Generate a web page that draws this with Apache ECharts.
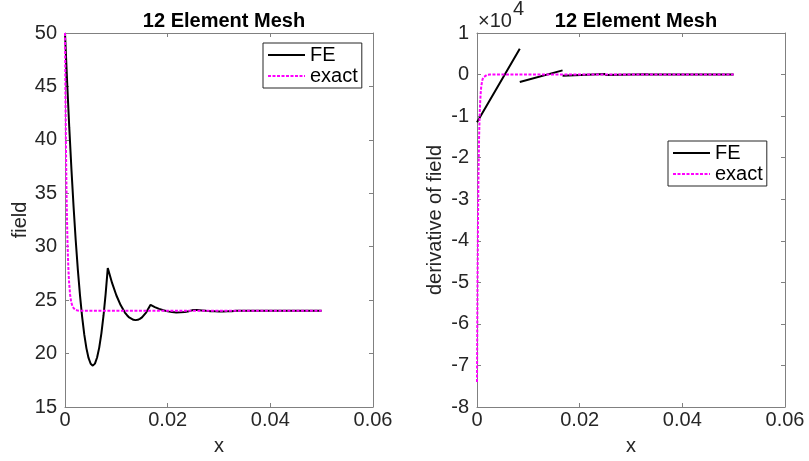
<!DOCTYPE html>
<html>
<head>
<meta charset="utf-8">
<script src="https://cdn.jsdelivr.net/npm/echarts@6/dist/echarts.min.js"></script>
<style>
html,body{margin:0;padding:0;background:#fff;}
#chart{width:809px;height:461px;}
</style>
</head>
<body>
<div id="chart"></div>
<script>
// ---- data ----
var titles = ['12 Element Mesh', '12 Element Mesh'];
var seriesNames = ['FE', 'exact'];

// FE field (piecewise quadratic)
var feX = [0, 0.000417, 0.000833, 0.00125, 0.001667, 0.002083, 0.0025, 0.002917, 0.003333, 0.00375, 0.004167, 0.004583, 0.005, 0.005417, 0.005833, 0.00625, 0.006667, 0.007083, 0.0075, 0.007917, 0.008333,
  0.009167, 0.01, 0.010833, 0.011667, 0.0125, 0.012083, 0.013333, 0.013750, 0.014167, 0.014583, 0.015, 0.015833, 0.016667,
  0.0175, 0.018333, 0.019167, 0.02, 0.020833, 0.021667, 0.0225, 0.023333, 0.024167, 0.025,
  0.025833, 0.026667, 0.0275, 0.028333, 0.029167, 0.03, 0.030833, 0.031667, 0.0325, 0.033333,
  0.0375, 0.041667, 0.045833, 0.05];
var feField = [50, 45.39, 41.14, 37.27, 33.76, 30.63, 27.86, 25.47, 23.45, 21.79, 20.51, 19.59, 19.05, 18.87, 19.06, 19.63, 20.56, 21.87, 23.54, 25.59, 28.0,
  26.61, 25.46, 24.54, 23.84, 23.38, 23.59, 23.16, 23.13, 23.16, 23.25, 23.39, 23.86, 24.56,
  24.35, 24.18, 24.05, 23.95, 23.88, 23.85, 23.86, 23.90, 23.97, 24.08,
  24.07, 24.04, 24.00, 23.97, 23.95, 23.94, 23.94, 23.95, 23.97, 24.00,
  24.01, 24.00, 24.00, 24.00];

// FE derivative (x 1e4), linear per element: nodes and end values
var elemX = [0, 0.008333, 0.016667, 0.025, 0.033333, 0.041667, 0.05];
var derivLeft = [-1.15, -0.18, -0.027, -0.01, 0.0, 0.0];
var derivRight = [0.62, 0.10, 0.015, 0.01, 0.0, 0.0];

// exact solution
var exX = [0, 0.0001, 0.0002, 0.0003, 0.0004, 0.0005, 0.0006, 0.0007, 0.0008, 0.001, 0.0012, 0.0015, 0.002, 0.0025, 0.003, 0.005, 0.01, 0.02, 0.03, 0.04, 0.05];
var exField = [50, 43.54, 38.68, 35.03, 32.29, 30.23, 28.68, 27.5, 26.64, 25.49, 24.84, 24.36, 24.09, 24.02, 24.0, 24.0, 24.0, 24.0, 24.0, 24.0, 24.0];
var exDeriv = [-7.4, -5.0, -3.4, -2.3, -1.55, -1.05, -0.7, -0.48, -0.32, -0.15, -0.07, -0.025, -0.005, -0.001, 0, 0, 0, 0, 0, 0, 0];

// ---- build ----
function zip(a, b) {
  var out = a.map(function (v, i) { return [v, b[i]]; });
  out.sort(function (p, q) { return p[0] - q[0]; });
  return out;
}
var feDerivData = [];
for (var i = 0; i < derivLeft.length; i++) {
  feDerivData.push([elemX[i], derivLeft[i]]);
  feDerivData.push([elemX[i + 1], derivRight[i]]);
  feDerivData.push([elemX[i + 1], '-']);
}

var FONT = 'Liberation Sans, Arial, Helvetica, sans-serif';
var AXC = '#808080';
var LBC = '#262626';

function xAxes(gi, name) {
  return [{
    type: 'value', gridIndex: gi, position: 'bottom', min: 0, max: 0.06, interval: 0.02,
    name: name, nameLocation: 'middle', nameGap: 29,
    nameTextStyle: { fontSize: 20, color: LBC, fontFamily: FONT },
    axisLine: { show: true, onZero: false, lineStyle: { color: AXC, width: 1 } },
    axisTick: { show: true, inside: true, length: 4, lineStyle: { color: AXC } },
    axisLabel: { fontSize: 20, color: LBC, fontFamily: FONT, margin: 3,
      formatter: function (v) { return String(Math.round(v * 100) / 100); } },
    splitLine: { show: false }
  }, {
    type: 'value', gridIndex: gi, position: 'top', min: 0, max: 0.06, interval: 0.02,
    axisLine: { show: true, onZero: false, lineStyle: { color: AXC, width: 1 } },
    axisTick: { show: true, inside: true, length: 4, lineStyle: { color: AXC } },
    axisLabel: { show: false }, splitLine: { show: false }
  }];
}
function yAxes(gi, name, mn, mx, itv, gap) {
  return [{
    type: 'value', gridIndex: gi, position: 'left', min: mn, max: mx, interval: itv,
    name: name, nameLocation: 'middle', nameGap: gap,
    nameTextStyle: { fontSize: 20, color: LBC, fontFamily: FONT },
    axisLine: { show: true, onZero: false, lineStyle: { color: AXC, width: 1 } },
    axisTick: { show: true, inside: true, length: 4, lineStyle: { color: AXC } },
    axisLabel: { fontSize: 20, color: LBC, fontFamily: FONT, margin: 8 },
    splitLine: { show: false }
  }, {
    type: 'value', gridIndex: gi, position: 'right', min: mn, max: mx, interval: itv,
    axisLine: { show: true, onZero: false, lineStyle: { color: AXC, width: 1 } },
    axisTick: { show: true, inside: true, length: 4, lineStyle: { color: AXC } },
    axisLabel: { show: false }, splitLine: { show: false }
  }];
}

function legendAt(l, t) {
  return {
    left: l, top: t, orient: 'vertical', data: seriesNames,
    itemWidth: 37, itemHeight: 14, itemGap: 1, padding: [2, 4, 2, 4],
    borderColor: '#262626', borderWidth: 1, backgroundColor: '#fff',
    itemStyle: { opacity: 0 },
    textStyle: { fontSize: 20, color: '#000', fontFamily: FONT, padding: [0, 0, 0, 0] },
    selectedMode: false
  };
}

var chart = echarts.init(document.getElementById('chart'), null, { renderer: 'canvas' });
var option = {
  animation: false,
  backgroundColor: '#fff',
  title: [
    { text: titles[0], left: 219, top: 6, textAlign: 'center',
      textStyle: { fontSize: 20, fontWeight: 'bold', color: '#000', fontFamily: FONT } },
    { text: titles[1], left: 631, top: 6, textAlign: 'center',
      textStyle: { fontSize: 20, fontWeight: 'bold', color: '#000', fontFamily: FONT } }
  ],
  grid: [
    { left: 65, top: 33, width: 308, height: 374 },
    { left: 477, top: 33, width: 308, height: 374 }
  ],
  xAxis: xAxes(0, 'x').concat(xAxes(1, 'x')),
  yAxis: yAxes(0, 'field', 15, 50, 5, 34).concat(yAxes(1, 'derivative of field', -8, 1, 1, 32)),
  legend: [legendAt(263, 43), legendAt(668, 141)],
  graphic: [
    { type: 'text', left: 478, top: 11, style: { text: '×10', fontSize: 20, fill: LBC, fontFamily: FONT } },
    { type: 'text', left: 513, top: -1, style: { text: '4', fontSize: 20, fill: LBC, fontFamily: FONT } }
  ],
  series: [
    { name: 'FE', type: 'line', xAxisIndex: 0, yAxisIndex: 0, data: zip(feX, feField),
      symbol: 'none', lineStyle: { color: '#000', width: 2 }, itemStyle: { color: '#000' }, z: 2 },
    { name: 'exact', type: 'line', xAxisIndex: 0, yAxisIndex: 0, data: zip(exX, exField),
      symbol: 'none', lineStyle: { color: '#ff00ff', width: 2, type: [3, 1.5] }, itemStyle: { color: '#ff00ff' }, z: 3 },
    { name: 'FE', type: 'line', xAxisIndex: 2, yAxisIndex: 2, data: feDerivData, connectNulls: false,
      symbol: 'none', lineStyle: { color: '#000', width: 2 }, itemStyle: { color: '#000' }, z: 2 },
    { name: 'exact', type: 'line', xAxisIndex: 2, yAxisIndex: 2, data: zip(exX, exDeriv),
      symbol: 'none', lineStyle: { color: '#ff00ff', width: 2, type: [3, 1.5] }, itemStyle: { color: '#ff00ff' }, z: 3 }
  ]
};
chart.setOption(option);
</script>
</body>
</html>
